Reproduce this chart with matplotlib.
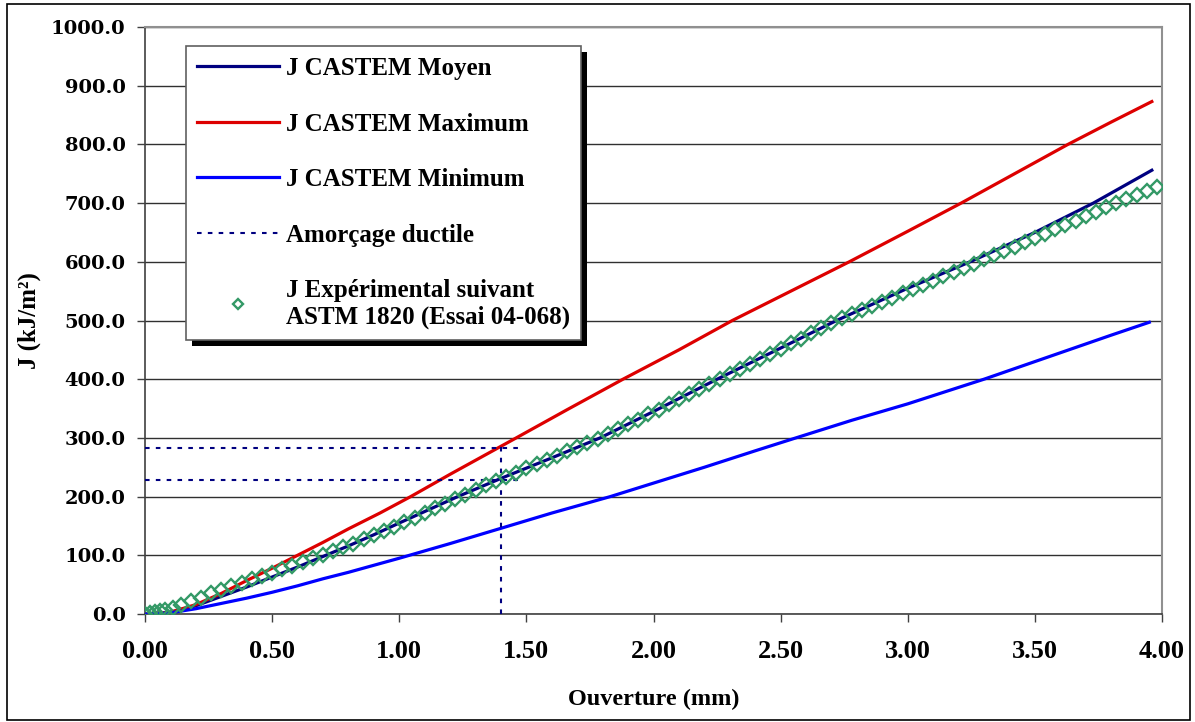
import matplotlib
matplotlib.use("Agg")
import matplotlib.pyplot as plt
from matplotlib.patches import Rectangle

# ── Data ──
x_moyen = [0.0, 0.1, 0.2, 0.3, 0.4, 0.5, 0.6, 0.7, 0.8, 0.9, 1.0, 1.23, 1.40,
           1.6, 1.79, 2.0, 2.25, 2.5, 2.72, 3.0, 3.245, 3.5, 3.73, 3.96]
j_moyen = [0, 3, 14, 30, 46, 63, 80, 98, 116, 135, 155, 200, 231,
           266, 300, 345, 400, 453, 500, 555, 600, 650, 700, 756]

x_max = [0.0, 0.1, 0.2, 0.3, 0.4, 0.5, 0.6, 0.7, 0.8, 0.924, 1.045, 1.2, 1.46,
         1.66, 1.88, 2.1, 2.31, 2.54, 2.77, 3.0, 3.21, 3.42, 3.63, 3.8, 3.96]
j_max = [0, 3, 16, 35, 57, 78, 100, 122, 145, 172, 200, 238, 300,
         348, 400, 450, 500, 550, 600, 652, 700, 750, 800, 838, 873]

x_min = [0.0, 0.1, 0.2, 0.3, 0.4, 0.5, 0.6, 0.7, 0.8, 0.9, 1.0, 1.2, 1.40,
         1.6, 1.83, 2.0, 2.2, 2.4, 2.56, 2.78, 3.0, 3.3, 3.6, 3.8, 3.95]
j_min = [0, 2, 9, 18, 27, 37, 48, 60, 71, 83, 95, 120, 146,
         172, 200, 223, 250, 278, 300, 330, 358, 400, 445, 475, 497]

# initiation (amorcage ductile) guide lines
amorc_x = 1.40
amorc_j_max = 283
amorc_j_moy = 228
amorc_x_end = 1.48
amorc_v_top = 293

x_exp = [0.00, 0.02, 0.04, 0.06, 0.08, 0.11, 0.14, 0.18, 0.22, 0.26, 0.30, 0.34,
         0.38, 0.42, 0.46, 0.50, 0.54, 0.58, 0.62, 0.66, 0.70, 0.74, 0.78, 0.82,
         0.86, 0.90, 0.94, 0.98, 1.02, 1.06, 1.10, 1.14, 1.18, 1.22, 1.26, 1.30,
         1.34, 1.38, 1.42, 1.46, 1.50, 1.54, 1.58, 1.62, 1.66, 1.70, 1.74, 1.78,
         1.82, 1.86, 1.90, 1.94, 1.98, 2.02, 2.06, 2.10, 2.14, 2.18, 2.22, 2.26,
         2.30, 2.34, 2.38, 2.42, 2.46, 2.50, 2.54, 2.58, 2.62, 2.66, 2.70, 2.74,
         2.78, 2.82, 2.86, 2.90, 2.94, 2.98, 3.02, 3.06, 3.10, 3.14, 3.18, 3.22,
         3.26, 3.30, 3.34, 3.38, 3.42, 3.46, 3.50, 3.54, 3.58, 3.62, 3.66, 3.70,
         3.74, 3.78, 3.82, 3.86, 3.90, 3.94, 3.98]
j_exp = [0, 2, 3, 5, 6, 10, 15, 22, 28, 35, 41, 47,
         53, 59, 64, 70, 76, 82, 88, 95, 101, 107, 114, 120,
         127, 134, 141, 148, 156, 164, 172, 180, 188, 196, 203, 211,
         219, 226, 234, 241, 248, 255, 262, 270, 277, 284, 291, 298,
         306, 315, 323, 331, 340, 348, 357, 366, 374, 383, 392, 400,
         409, 417, 426, 435, 443, 452, 461, 469, 478, 487, 496, 504,
         511, 518, 525, 532, 539, 546, 554, 561, 568, 575, 582, 589,
         596, 604, 611, 619, 626, 634, 641, 648, 656, 663, 670, 678,
         685, 693, 700, 707, 714, 721, 728]

x_ticks = [0.0, 0.5, 1.0, 1.5, 2.0, 2.5, 3.0, 3.5, 4.0]
y_ticks = [0, 100, 200, 300, 400, 500, 600, 700, 800, 900, 1000]

SERIF = ["Liberation Serif", "DejaVu Serif"]
NAVY, RED, BLUE, GREEN = "#000080", "#DD0000", "#0000FF", "#339966"

fig = plt.figure(figsize=(11.95, 7.22), dpi=100)
ax = fig.add_axes([145 / 1195, 1 - 614 / 722, 1017 / 1195, 587 / 722])

ax.plot(x_moyen, j_moyen, color=NAVY, lw=2.3, label="J CASTEM Moyen", zorder=3)
ax.plot(x_max, j_max, color=RED, lw=2.3, label="J CASTEM Maximum", zorder=3)
ax.plot(x_min, j_min, color=BLUE, lw=2.3, label="J CASTEM Minimum", zorder=3)

dot = dict(color=NAVY, lw=1.5, ls=(0, (2.2, 3.0)), zorder=3)
ax.plot([0, amorc_x_end], [amorc_j_max, amorc_j_max], **dot, label="Amorçage ductile")
ax.plot([0, amorc_x_end], [amorc_j_moy, amorc_j_moy], **dot)
ax.plot([amorc_x, amorc_x], [0, amorc_v_top], **dot)

ax.plot(x_exp, j_exp, ls="none", marker="D", ms=7, mfc="none", mec=GREEN, mew=1.7,
        label="J Expérimental suivant\nASTM 1820 (Essai 04-068)", zorder=4)

ax.set_xlim(0, 4)
ax.set_ylim(0, 1000)
ax.set_xticks(x_ticks)
ax.set_xticklabels([f"{v:.2f}" for v in x_ticks], family=SERIF, weight="bold", fontsize=19)
ax.set_yticks(y_ticks)
ax.set_yticklabels([f"{v:.1f}" for v in y_ticks], family="DejaVu Serif", weight="bold", fontsize=14)
ax.tick_params(axis="x", direction="out", length=6, width=1, pad=13, color="#404040")
ax.tick_params(axis="y", direction="out", length=6, width=1, pad=8, color="#404040")

ax.yaxis.grid(True, color="#303030", lw=1)
ax.set_axisbelow(True)
for side in ["left", "bottom"]:
    ax.spines[side].set_color("#404040")
    ax.spines[side].set_linewidth(1.2)
for side in ["top", "right"]:
    ax.spines[side].set_color("#909090")
    ax.spines[side].set_linewidth(1.5)

ax.set_xlabel("Ouverture (mm)", family=SERIF, weight="bold", fontsize=17.5, labelpad=18)
fig.text(29 / 1195, 1 - 321 / 722, "J (kJ/m²)", family=SERIF, weight="bold", fontsize=18,
         rotation=90, ha="center", va="center")

leg = ax.legend(loc="upper left", bbox_to_anchor=(0.040, 0.968), borderaxespad=0,
                prop=dict(family=SERIF, weight="bold", size=18),
                handlelength=3.3, handletextpad=0.25, labelspacing=1.3,
                borderpad=0.45, fancybox=False, framealpha=1, edgecolor="#606060",
                markerscale=0.75)
leg.get_frame().set_linewidth(1.2)
leg.set_zorder(6)
for t in leg.get_texts():
    t.set_linespacing(1.2)

# black drop shadow behind the legend
fig.canvas.draw()
bb = leg.get_window_extent()
ax.add_patch(Rectangle((bb.x0 + 6, bb.y0 - 6), bb.width, bb.height, transform=None,
                       facecolor="black", edgecolor="none", zorder=5.5, clip_on=False))

# outer chart border
fig.add_artist(Rectangle((7 / 1195, 2 / 722), 1183 / 1195, 716 / 722,
                         transform=fig.transFigure, fill=False, edgecolor="black", lw=1.2))

fig.savefig("out.png", dpi=100)
